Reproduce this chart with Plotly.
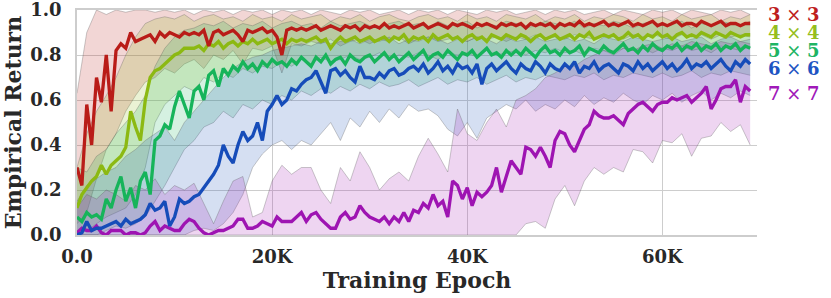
import plotly.graph_objects as go

# ---------------- data ----------------
labels = ["3 × 3", "4 × 4", "5 × 5", "6 × 6", "7 × 7"]
tick_vals_x = [0, 20000, 40000, 60000]
tick_text_x = ["0.0", "20K", "40K", "60K"]
tick_vals_y = [0.0, 0.2, 0.4, 0.6, 0.8, 1.0]
tick_text_y = ["0.0", "0.2", "0.4", "0.6", "0.8", "1.0"]

mean_step = 500
band_step = 1000

red_mean = [0.30,0.22,0.58,0.40,0.70,0.59,0.80,0.55,0.82,0.85,
            0.83,0.90,0.86,0.87,0.88,0.89,0.86,0.90,0.88,0.90,
            0.89,0.88,0.90,0.89,0.90,0.89,0.91,0.84,0.90,0.91,
            0.89,0.90,0.91,0.89,0.86,0.91,0.90,0.91,0.92,0.90,
            0.91,0.88,0.80,0.91,0.92,0.91,0.92,0.91,0.92,0.93,
            0.91,0.92,0.93,0.92,0.91,0.93,0.92,0.93,0.91,0.93,
            0.92,0.93,0.92,0.94,0.92,0.93,0.92,0.93,0.94,0.92,
            0.93,0.94,0.92,0.93,0.94,0.93,0.92,0.94,0.93,0.94,
            0.93,0.92,0.94,0.93,0.94,0.93,0.92,0.94,0.93,0.94,
            0.93,0.94,0.92,0.94,0.93,0.94,0.93,0.94,0.92,0.94,
            0.93,0.94,0.93,0.95,0.93,0.94,0.93,0.94,0.95,0.93,
            0.94,0.93,0.94,0.95,0.93,0.94,0.93,0.94,0.95,0.93,
            0.94,0.93,0.94,0.95,0.93,0.94,0.94,0.93,0.95,0.94,
            0.93,0.94,0.95,0.93,0.94,0.94,0.93,0.94,0.94]
lime_mean = [0.12,0.18,0.21,0.24,0.26,0.31,0.27,0.31,0.33,0.35,
             0.39,0.55,0.48,0.42,0.60,0.70,0.73,0.74,0.76,0.78,
             0.80,0.81,0.83,0.83,0.83,0.84,0.82,0.85,0.84,0.86,
             0.83,0.85,0.86,0.84,0.86,0.85,0.87,0.85,0.86,0.87,
             0.85,0.86,0.87,0.85,0.87,0.86,0.87,0.86,0.87,0.88,
             0.86,0.87,0.83,0.86,0.88,0.86,0.87,0.88,0.86,0.87,
             0.88,0.86,0.87,0.88,0.86,0.88,0.87,0.89,0.86,0.88,
             0.87,0.88,0.86,0.89,0.87,0.88,0.89,0.87,0.88,0.86,
             0.88,0.89,0.87,0.88,0.86,0.89,0.88,0.87,0.89,0.88,
             0.87,0.89,0.88,0.86,0.88,0.89,0.87,0.88,0.89,0.87,
             0.88,0.89,0.87,0.89,0.88,0.90,0.87,0.88,0.89,0.88,
             0.89,0.87,0.88,0.90,0.88,0.89,0.87,0.89,0.88,0.90,
             0.88,0.89,0.87,0.89,0.90,0.88,0.89,0.88,0.90,0.89,
             0.88,0.90,0.89,0.88,0.90,0.89,0.88,0.89,0.89]
green_mean = [0.08,0.06,0.10,0.08,0.09,0.07,0.16,0.12,0.20,0.26,
              0.15,0.21,0.12,0.24,0.28,0.18,0.42,0.44,0.49,0.47,
              0.57,0.64,0.58,0.52,0.64,0.66,0.60,0.71,0.73,0.66,
              0.74,0.71,0.75,0.73,0.77,0.74,0.76,0.73,0.77,0.75,
              0.78,0.76,0.77,0.75,0.78,0.76,0.79,0.77,0.75,0.79,
              0.77,0.80,0.76,0.78,0.79,0.76,0.80,0.78,0.77,0.79,
              0.80,0.77,0.79,0.81,0.78,0.80,0.77,0.79,0.81,0.78,
              0.80,0.82,0.78,0.80,0.81,0.79,0.82,0.80,0.78,0.81,
              0.80,0.82,0.79,0.81,0.83,0.80,0.81,0.79,0.82,0.80,
              0.82,0.80,0.83,0.81,0.79,0.82,0.84,0.81,0.82,0.80,
              0.83,0.81,0.82,0.84,0.80,0.83,0.82,0.81,0.84,0.82,
              0.81,0.83,0.85,0.82,0.83,0.81,0.84,0.82,0.85,0.83,
              0.82,0.84,0.83,0.85,0.82,0.84,0.83,0.85,0.82,0.84,
              0.83,0.85,0.82,0.84,0.83,0.85,0.82,0.84,0.83]
blue_mean = [0.00,0.01,0.06,0.02,0.03,0.03,0.04,0.05,0.06,0.04,
             0.07,0.05,0.06,0.07,0.09,0.14,0.11,0.12,0.15,0.04,
             0.08,0.16,0.14,0.15,0.17,0.18,0.21,0.24,0.27,0.31,
             0.40,0.35,0.32,0.40,0.46,0.42,0.44,0.50,0.42,0.55,
             0.58,0.62,0.58,0.60,0.65,0.64,0.67,0.69,0.70,0.73,
             0.68,0.63,0.73,0.74,0.71,0.73,0.70,0.68,0.75,0.70,
             0.70,0.69,0.72,0.70,0.73,0.74,0.71,0.72,0.74,0.75,
             0.73,0.76,0.72,0.74,0.77,0.73,0.75,0.72,0.76,0.74,
             0.75,0.72,0.76,0.67,0.74,0.76,0.73,0.75,0.77,0.74,
             0.72,0.76,0.74,0.73,0.77,0.75,0.72,0.76,0.74,0.73,
             0.76,0.74,0.77,0.72,0.75,0.74,0.77,0.73,0.75,0.76,
             0.74,0.72,0.76,0.75,0.73,0.77,0.74,0.76,0.73,0.75,
             0.77,0.74,0.76,0.73,0.75,0.78,0.74,0.76,0.75,0.77,
             0.74,0.76,0.78,0.75,0.73,0.77,0.75,0.78,0.76]
purple_mean = [0.01,0.03,0.02,0.02,0.04,0.01,0.00,0.02,0.02,0.02,
               0.00,0.01,0.01,0.00,0.01,0.04,0.06,0.02,0.04,0.03,
               0.02,0.02,0.05,0.07,0.06,0.03,0.01,0.00,0.01,0.02,
               0.02,0.03,0.04,0.07,0.07,0.03,0.03,0.04,0.06,0.05,
               0.04,0.08,0.06,0.06,0.06,0.08,0.10,0.06,0.09,0.10,
               0.07,0.05,0.03,0.03,0.08,0.10,0.07,0.08,0.13,0.10,
               0.08,0.07,0.06,0.08,0.05,0.08,0.06,0.10,0.06,0.11,
               0.10,0.14,0.12,0.18,0.13,0.15,0.08,0.24,0.22,0.16,
               0.21,0.13,0.19,0.17,0.19,0.22,0.30,0.19,0.26,0.33,
               0.30,0.27,0.39,0.38,0.35,0.39,0.35,0.30,0.42,0.46,
               0.45,0.40,0.37,0.42,0.47,0.49,0.55,0.53,0.52,0.52,
               0.53,0.51,0.49,0.54,0.56,0.58,0.59,0.57,0.55,0.58,
               0.59,0.59,0.61,0.60,0.61,0.62,0.59,0.61,0.63,0.66,
               0.56,0.60,0.65,0.66,0.66,0.69,0.59,0.66,0.64]

red_lo = [0.05,0.10,0.25,0.38,0.45,0.55,0.62,0.68,0.70,0.74,
          0.72,0.76,0.78,0.74,0.80,0.78,0.82,0.76,0.83,0.82,
          0.84,0.72,0.85,0.84,0.86,0.85,0.87,0.84,0.86,0.87,
          0.85,0.87,0.86,0.88,0.85,0.87,0.88,0.86,0.87,0.88,
          0.86,0.88,0.87,0.88,0.86,0.88,0.87,0.89,0.87,0.88,
          0.87,0.89,0.88,0.87,0.89,0.88,0.87,0.89,0.88,0.89,
          0.88,0.87,0.89,0.88,0.89,0.87,0.89,0.88,0.89,0.88]
red_hi = [0.63,0.90,1.00,0.98,1.00,0.99,1.00,1.00,0.99,1.00,
          0.99,1.00,0.98,1.00,0.99,1.00,0.98,1.00,0.99,1.00,
          0.98,1.00,0.99,1.00,0.98,1.00,0.99,0.98,1.00,0.99,
          1.00,0.98,0.99,1.00,0.98,1.00,0.99,1.00,0.98,1.00,
          0.99,0.98,1.00,0.99,1.00,0.98,0.99,1.00,0.98,1.00,
          0.99,1.00,0.98,0.99,1.00,0.98,1.00,0.99,0.98,1.00,
          0.99,1.00,0.98,1.00,0.99,0.98,1.00,0.99,1.00,0.98]
lime_lo = [0.00,0.02,0.05,0.08,0.10,0.12,0.18,0.30,0.50,0.58,
           0.62,0.66,0.64,0.70,0.68,0.72,0.70,0.74,0.72,0.75,
           0.74,0.77,0.75,0.78,0.76,0.79,0.77,0.78,0.80,0.78,
           0.79,0.81,0.78,0.80,0.79,0.81,0.80,0.78,0.81,0.80,
           0.81,0.79,0.82,0.80,0.81,0.82,0.80,0.82,0.81,0.83,
           0.81,0.82,0.80,0.83,0.82,0.81,0.83,0.82,0.83,0.81,
           0.83,0.82,0.84,0.82,0.83,0.81,0.84,0.83,0.82,0.84]
lime_hi = [0.30,0.45,0.55,0.62,0.70,0.80,0.88,0.94,0.96,0.97,
           0.96,0.98,0.95,0.97,0.98,0.96,0.97,0.95,0.98,0.96,
           0.97,0.95,0.98,0.96,0.97,0.98,0.95,0.97,0.96,0.98,
           0.95,0.97,0.98,0.96,0.95,0.97,0.98,0.96,0.97,0.95,
           0.98,0.96,0.97,0.95,0.98,0.97,0.96,0.98,0.95,0.97,
           0.96,0.98,0.95,0.97,0.96,0.98,0.97,0.95,0.98,0.96,
           0.97,0.95,0.98,0.96,0.97,0.98,0.95,0.97,0.96,0.98]
green_lo = [0.00,0.00,0.00,0.02,0.04,0.03,0.05,0.08,0.15,0.22,
            0.30,0.38,0.42,0.48,0.50,0.55,0.52,0.58,0.56,0.60,
            0.58,0.62,0.60,0.64,0.62,0.65,0.63,0.66,0.64,0.67,
            0.65,0.68,0.66,0.67,0.69,0.66,0.68,0.70,0.67,0.69,
            0.68,0.70,0.67,0.69,0.71,0.68,0.70,0.69,0.71,0.70,
            0.69,0.71,0.70,0.72,0.69,0.71,0.70,0.72,0.71,0.70,
            0.72,0.70,0.71,0.73,0.70,0.72,0.71,0.73,0.72,0.71]
green_hi = [0.30,0.28,0.35,0.38,0.45,0.50,0.55,0.62,0.75,0.83,
            0.88,0.91,0.92,0.94,0.93,0.95,0.92,0.94,0.93,0.95,
            0.92,0.94,0.95,0.93,0.94,0.92,0.95,0.93,0.94,0.95,
            0.93,0.92,0.94,0.95,0.93,0.94,0.92,0.95,0.93,0.94,
            0.95,0.92,0.94,0.93,0.95,0.94,0.92,0.93,0.95,0.94,
            0.93,0.95,0.92,0.94,0.93,0.95,0.94,0.92,0.94,0.95,
            0.93,0.94,0.95,0.92,0.94,0.93,0.95,0.94,0.93,0.95]
blue_lo = [0.00,0.00,0.00,0.00,0.00,0.00,0.00,0.00,0.00,0.00,
           0.00,0.00,0.02,0.03,0.02,0.05,0.10,0.18,0.30,0.36,
           0.40,0.42,0.38,0.42,0.40,0.45,0.50,0.42,0.52,0.48,
           0.55,0.50,0.56,0.52,0.58,0.55,0.56,0.53,0.47,0.44,
           0.50,0.43,0.52,0.55,0.58,0.56,0.60,0.55,0.58,0.56,
           0.60,0.57,0.62,0.58,0.61,0.59,0.63,0.60,0.58,0.62,
           0.60,0.63,0.59,0.62,0.64,0.60,0.63,0.61,0.64,0.62]
blue_hi = [0.15,0.22,0.25,0.28,0.30,0.35,0.38,0.42,0.45,0.48,
           0.42,0.50,0.55,0.60,0.65,0.70,0.74,0.77,0.79,0.80,
           0.82,0.83,0.84,0.85,0.84,0.86,0.85,0.86,0.87,0.85,
           0.87,0.86,0.88,0.85,0.87,0.86,0.88,0.87,0.85,0.87,
           0.86,0.88,0.87,0.85,0.88,0.86,0.87,0.88,0.86,0.87,
           0.88,0.86,0.87,0.85,0.88,0.87,0.86,0.88,0.87,0.86,
           0.87,0.88,0.86,0.87,0.88,0.85,0.87,0.88,0.86,0.87]
purple_lo = [0.00,0.00,0.00,0.00,0.00,0.00,0.00,0.00,0.00,0.00,
             0.00,0.00,0.00,0.00,0.00,0.00,0.00,0.00,0.00,0.00,
             0.00,0.00,0.00,0.00,0.00,0.00,0.00,0.00,0.00,0.00,
             0.00,0.00,0.00,0.00,0.00,0.00,0.00,0.00,0.00,0.00,
             0.00,0.00,0.00,0.00,0.00,0.00,0.05,0.06,0.03,0.16,
             0.22,0.13,0.24,0.30,0.27,0.30,0.28,0.38,0.37,0.32,
             0.42,0.41,0.45,0.35,0.43,0.44,0.50,0.46,0.49,0.40]
purple_hi = [0.12,0.18,0.16,0.20,0.18,0.15,0.22,0.20,0.25,0.18,
             0.22,0.20,0.23,0.14,0.05,0.15,0.24,0.26,0.08,0.10,
             0.24,0.31,0.27,0.30,0.30,0.20,0.14,0.30,0.24,0.37,
             0.30,0.20,0.25,0.28,0.24,0.35,0.43,0.36,0.28,0.56,
             0.45,0.42,0.50,0.56,0.48,0.60,0.62,0.65,0.70,0.72,
             0.75,0.75,0.78,0.80,0.82,0.80,0.83,0.82,0.84,0.85,
             0.83,0.85,0.84,0.86,0.85,0.84,0.86,0.85,0.86,0.85]

# ---------------- styling ----------------
colors = [(185, 28, 24), (140, 185, 18), (22, 180, 90), (22, 76, 185), (158, 20, 178)]
label_colors = ["rgb(190,30,30)", "rgb(150,190,30)", "rgb(30,180,100)", "rgb(30,85,195)", "rgb(160,25,185)"]
means = [red_mean, lime_mean, green_mean, blue_mean, purple_mean]
los = [red_lo, lime_lo, green_lo, blue_lo, purple_lo]
his = [red_hi, lime_hi, green_hi, blue_hi, purple_hi]

fig = go.Figure()
edge = dict(color="rgba(90,90,90,0.45)", width=0.7)
for c, lo, hi in zip(colors, los, his):
    xb = [band_step * i for i in range(len(lo))]
    fig.add_trace(go.Scatter(x=xb, y=lo, mode="lines", line=edge, showlegend=False, hoverinfo="skip"))
    fig.add_trace(go.Scatter(x=xb, y=hi, mode="lines", line=edge, fill="tonexty",
                             fillcolor="rgba(%d,%d,%d,0.18)" % c, showlegend=False, hoverinfo="skip"))

for c, m in reversed(list(zip(colors, means))):
    xm = [mean_step * i for i in range(len(m))]
    fig.add_trace(go.Scatter(x=xm, y=m, mode="lines", line=dict(color="rgb(%d,%d,%d)" % c, width=3.3),
                             showlegend=False))

font_family = "DejaVu Serif"
tick_font = dict(family=font_family, size=18, color="rgb(40,40,40)", weight="bold")
title_font = dict(family=font_family, size=22, color="rgb(40,40,40)", weight="bold")

fig.update_xaxes(range=[0, 69700], tickvals=tick_vals_x, ticktext=tick_text_x, automargin=False,
                 showgrid=True, gridcolor="rgb(205,205,205)", gridwidth=1.3,
                 showline=True, linecolor="rgb(205,205,205)", linewidth=1.5, mirror=True,
                 zeroline=False, ticks="", tickfont=tick_font, ticklabelstandoff=5,
                 ticklabeloverflow="allow",
                 title=dict(text="Training Epoch", font=title_font, standoff=4))
fig.update_yaxes(range=[0, 1], tickvals=tick_vals_y, ticktext=tick_text_y, automargin=False,
                 showgrid=True, gridcolor="rgb(205,205,205)", gridwidth=1.3,
                 showline=True, linecolor="rgb(205,205,205)", linewidth=1.5,
                 zeroline=False, ticks="", tickfont=tick_font, ticklabelstandoff=10,
                 ticklabeloverflow="allow",
                 title=dict(text="Empirical Return", font=title_font, standoff=10))

legend_y = [0.978, 0.898, 0.822, 0.742, 0.631]
for lab, col, yy in zip(labels, label_colors, legend_y):
    a, b = lab.split(" × ")
    fig.add_annotation(x=1.013, y=yy, xref="paper", yref="paper", xanchor="left", yanchor="middle",
                       showarrow=False, height=15,
                       text="<b>%s</b>&nbsp;<span style='font-weight:normal'>×</span>&nbsp;<b>%s</b>" % (a, b),
                       font=dict(family=font_family, size=18, color=col))

fig.update_layout(width=831, height=298, margin=dict(l=77, r=74, t=10, b=63),
                  plot_bgcolor="white", paper_bgcolor="white", showlegend=False)
fig.write_html("out.html", config={"displayModeBar": False},
               post_script="document.body.style.margin='0';")
